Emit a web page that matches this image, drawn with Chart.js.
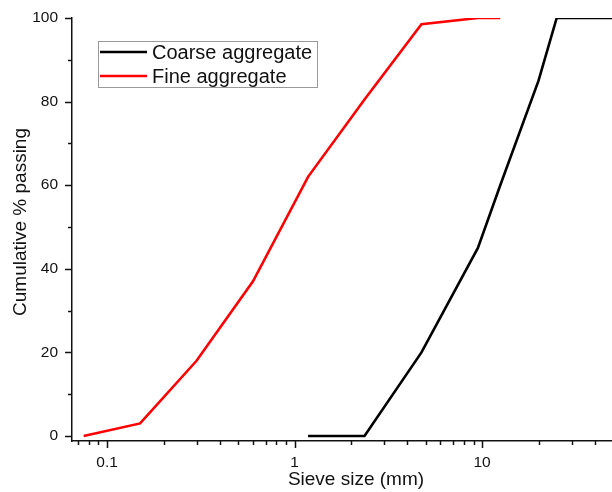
<!DOCTYPE html>
<html>
<head>
<meta charset="utf-8">
<script src="https://cdn.jsdelivr.net/npm/chart.js@4.4.1/dist/chart.umd.min.js"></script>
<style>
  html, body { margin: 0; padding: 0; background: #fff; }
  #wrap { width: 612px; height: 492px; position: relative; }
</style>
</head>
<body>
<div id="wrap"><canvas id="sieve"></canvas></div>
<script>
// sieve sizes (mm) and cumulative % passing
const fineSizes = [0.075, 0.15, 0.3, 0.6, 1.18, 2.36, 4.75, 9.5, 12.5];
const finePassing = [0, 3, 18, 37, 62, 80.5, 98.5, 100, 100];
const coarseSizes = [1.18, 2.36, 4.75, 9.5, 12.5, 20, 25, 50];
const coarsePassing = [0, 0, 20, 45, 60, 85, 100, 100];

const yTicks = [0, 20, 40, 60, 80, 100];
const yMinorTicks = [10, 30, 50, 70, 90];
const xLabelled = [0.1, 1, 10];

const FONT = "'Liberation Sans', Arial, sans-serif";

// tick marks (major / minor) and titles, legend box drawn on top
const decor = {
  id: "decor",
  afterDraw(chart) {
    const { ctx, chartArea: a, scales } = chart;
    const x = scales.x, y = scales.y;
    ctx.save();
    ctx.strokeStyle = "#111";
    ctx.lineWidth = 1.5;

    // y ticks, outward to the left
    const yt = (v, len) => {
      const p = Math.round(y.getPixelForValue(v)) + 0.5;
      ctx.beginPath(); ctx.moveTo(a.left - len, p); ctx.lineTo(a.left, p); ctx.stroke();
    };
    yTicks.forEach((v) => yt(v, 7));
    yMinorTicks.forEach((v) => yt(v, 4));

    // x ticks, log decades with 2..9 minors
    for (let e = -2; e <= 2; e++) {
      for (let m = 1; m <= 9; m++) {
        const v = m * Math.pow(10, e);
        if (v < x.min || v > x.max) continue;
        const p = Math.round(x.getPixelForValue(v)) + 0.5;
        const len = m === 1 ? 7 : 4;
        ctx.beginPath(); ctx.moveTo(p, a.bottom); ctx.lineTo(p, a.bottom + len); ctx.stroke();
      }
    }

    // axis titles
    ctx.fillStyle = "#111";
    ctx.font = "19px " + FONT;
    ctx.textAlign = "center";
    ctx.textBaseline = "middle";
    ctx.fillText("Sieve size (mm)", 356, 480);
    ctx.save();
    ctx.translate(21, 222);
    ctx.rotate(-Math.PI / 2);
    ctx.fillText("Cumulative % passing", 0, 0);
    ctx.restore();

    // legend
    const bx = 98.5, by = 41.5, bw = 219, bh = 46;
    ctx.strokeStyle = "#999";
    ctx.lineWidth = 1;
    ctx.fillStyle = "#fff";
    ctx.fillRect(bx, by, bw, bh);
    ctx.strokeRect(bx, by, bw, bh);
    ctx.font = "20px " + FONT;
    ctx.textAlign = "left";
    chart.data.datasets.forEach((ds, i) => {
      const ly = 52 + i * 24;
      ctx.strokeStyle = ds.borderColor;
      ctx.lineWidth = 2.5;
      ctx.beginPath(); ctx.moveTo(100, ly); ctx.lineTo(147, ly); ctx.stroke();
      ctx.fillStyle = "#111";
      ctx.fillText(ds.label, 152, ly + 1);
    });
    ctx.restore();
  }
};

new Chart(document.getElementById("sieve"), {
  type: "line",
  data: {
    datasets: [
      {
        label: "Coarse aggregate",
        data: coarseSizes.map((s, i) => ({ x: s, y: coarsePassing[i] })),
        borderColor: "#000000",
        borderWidth: 2.6,
        pointRadius: 0,
        tension: 0
      },
      {
        label: "Fine aggregate",
        data: fineSizes.map((s, i) => ({ x: s, y: finePassing[i] })),
        borderColor: "#ff0000",
        borderWidth: 2.6,
        pointRadius: 0,
        tension: 0
      }
    ]
  },
  options: {
    responsive: true,
    maintainAspectRatio: false,
    animation: false,
    layout: { padding: { top: 18, right: 0, left: 0, bottom: 0 } },
    plugins: { legend: { display: false }, tooltip: { enabled: false } },
    scales: {
      x: {
        type: "logarithmic",
        min: 0.065,
        max: 49.3,
        grid: { display: true, drawOnChartArea: false, drawTicks: true, tickLength: 7, color: "rgba(0,0,0,0)" },
        border: { display: true, color: "#111", width: 1.5 },
        afterBuildTicks: (s) => { s.ticks = xLabelled.map((v) => ({ value: v })); },
        afterFit: (s) => { s.height = 51; },
        ticks: {
          autoSkip: false,
          maxRotation: 0,
          padding: 5,
          color: "#111",
          font: { family: FONT, size: 15.5 },
          callback: (v) => String(v)
        }
      },
      y: {
        min: -1.2,
        max: 100,
        grid: { display: true, drawOnChartArea: false, drawTicks: true, tickLength: 7, color: "rgba(0,0,0,0)" },
        border: { display: true, color: "#111", width: 1.5 },
        afterBuildTicks: (s) => { s.ticks = yTicks.map((v) => ({ value: v })); },
        afterFit: (s) => { s.width = 72; },
        ticks: {
          padding: 7,
          color: "#111",
          font: { family: FONT, size: 15.5 }
        }
      }
    }
  },
  plugins: [decor]
});
</script>
</body>
</html>
